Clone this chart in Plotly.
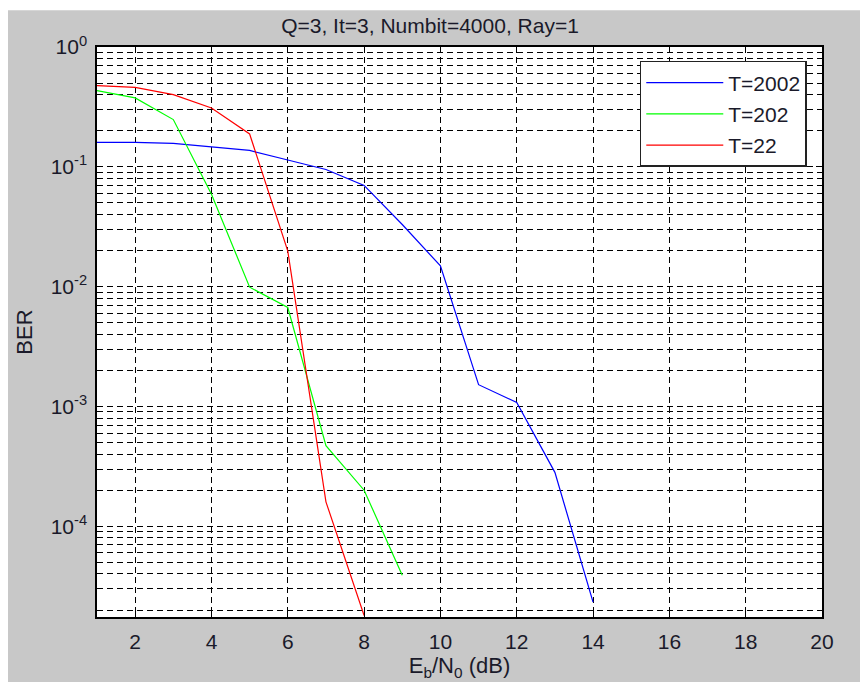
import numpy as np
import plotly.graph_objects as go

# Eb/N0 (dB) sample points and measured bit error rates for each interleaver size
snr_2002 = [1, 2, 3, 4, 5, 6, 7, 8, 9, 10, 11, 12, 13, 14]
ber_2002 = [0.160, 0.160, 0.157, 0.147, 0.137, 0.114, 0.095, 0.070, 0.033,
            0.0149, 0.00152, 0.00108, 2.82e-4, 2.33e-5]

snr_202 = [1, 2, 3, 4, 5, 6, 7, 8, 9]
ber_202 = [0.432, 0.376, 0.248, 0.059, 0.0099, 0.0067, 4.7e-4, 2.0e-4, 3.9e-5]

snr_22 = [1, 2, 3, 4, 5, 6, 7, 8]
ber_22 = [0.476, 0.461, 0.400, 0.310, 0.188, 0.0198, 1.6e-4, 1.8e-5]

series = [
    ("T=2002", snr_2002, ber_2002, "#0000ff"),
    ("T=202", snr_202, ber_202, "#00ff00"),
    ("T=22", snr_22, ber_22, "#ff0000"),
]

x_ticks = [2, 4, 6, 8, 10, 12, 14, 16, 18, 20]
y_ticks = [1, 1e-1, 1e-2, 1e-3, 1e-4]
y_tick_text = ["10<sup>0</sup>", "10<sup>-1</sup>", "10<sup>-2</sup>",
               "10<sup>-3</sup>", "10<sup>-4</sup>"]

FONT = "Liberation Sans, Arial, sans-serif"
GRID_DASH = "6px,4px"

fig = go.Figure()
for name, x, y, color in series:
    fig.add_trace(go.Scatter(
        x=x, y=y, mode="lines", name=name, legendgroup=name,
        line=dict(color=color, width=1.2),
    ))

fig.update_layout(
    width=860, height=682,
    margin=dict(l=97, r=38, t=47, b=63),
    paper_bgcolor="#c8c8c8",
    plot_bgcolor="white",
    font=dict(family=FONT, size=21, color="#1a1a2a"),
    title=dict(text="Q=3, It=3, Numbit=4000, Ray=1", x=0.5, xanchor="center",
               y=1 - 26 / 682, yanchor="middle", font=dict(size=21)),
    showlegend=True,
    legend=dict(
        x=0.979, y=0.9755, xanchor="right", yanchor="top",
        bgcolor="white", bordercolor="#222", borderwidth=1.5,
        font=dict(size=21), traceorder="grouped", tracegroupgap=1,
        itemwidth=77,
    ),
)

fig.update_xaxes(
    range=[1, 20], tickvals=x_ticks, ticks="inside", ticklen=6,
    tickcolor="black", showline=True, linecolor="black", linewidth=1.5,
    mirror="ticks", showgrid=True, gridcolor="black", gridwidth=1,
    griddash=GRID_DASH, zeroline=False, ticklabelstandoff=5,
    title=dict(text="E<sub>b</sub>/N<sub>0</sub> (dB)", standoff=2,
               font=dict(size=22)),
)

fig.update_yaxes(
    type="log", range=[np.log10(1.75e-5), 0],
    tickvals=y_ticks, ticktext=y_tick_text, ticks="inside", ticklen=6,
    tickcolor="black", showline=True, linecolor="black", linewidth=1.5,
    mirror="ticks", showgrid=True, gridcolor="black", gridwidth=1,
    griddash=GRID_DASH, zeroline=False, ticklabelstandoff=4,
    minor=dict(dtick="D1", showgrid=True, gridcolor="black", gridwidth=1,
               griddash=GRID_DASH, ticks="inside", ticklen=3,
               tickcolor="black"),
    title=dict(text="BER", standoff=12, font=dict(size=22)),
)

# thin white strips along the top and left edges of the figure window
fig.add_shape(type="rect", xref="paper", yref="paper",
              x0=-0.2, x1=1.1, y0=(619 - 10) / 572, y1=1.2,
              fillcolor="white", line=dict(width=0), layer="above")
fig.add_shape(type="rect", xref="paper", yref="paper",
              x0=-0.2, x1=(8 - 97) / 725, y0=-0.2, y1=1.2,
              fillcolor="white", line=dict(width=0), layer="above")

fig.write_html("out.html")
